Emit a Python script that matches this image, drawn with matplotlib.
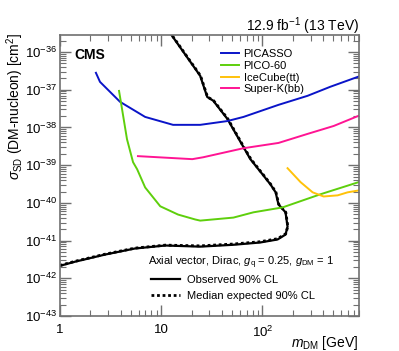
# CMS axial-vector limit vs direct detection (SD)
import numpy as np
import matplotlib.pyplot as plt
from matplotlib.ticker import LogLocator, FixedLocator, NullFormatter

plt.rcParams['font.family'] = ['Liberation Sans', 'DejaVu Sans']
plt.rcParams['mathtext.fontset'] = 'custom'
plt.rcParams['mathtext.rm'] = 'Liberation Sans'
plt.rcParams['mathtext.it'] = 'Liberation Sans:italic'
plt.rcParams['mathtext.bf'] = 'Liberation Sans:bold'

# data: mass [GeV], log10 cross section [cm^2]
picasso_m = [2.27, 2.49, 3.93, 6.95, 13.1, 24.3, 45, 65, 144, 279, 468, 890]
picasso_s = [-36.55, -36.79, -37.32, -37.72, -37.93, -37.93, -37.83, -37.72, -37.4, -37.16, -36.92, -36.65]

pico_m = [3.84, 4.11, 4.6, 5.28, 5.8, 6.95, 9.8, 14.7, 21.7, 24.3, 51.7, 81.5, 158, 375, 890]
pico_s = [-37.03, -37.51, -38.31, -38.92, -39.11, -39.59, -40.09, -40.31, -40.44, -40.47, -40.39, -40.25, -40.12, -39.77, -39.45]

icecube_m = [177, 238, 313, 402, 553, 693, 890]
icecube_s = [-39.08, -39.45, -39.72, -39.83, -39.8, -39.72, -39.67]

superk_m = [5.9, 20.3, 26, 65, 144, 279, 505, 890]
superk_s = [-38.76, -38.84, -38.79, -38.55, -38.41, -38.17, -37.96, -37.69]

obs_m = [1, 1.41, 2.8, 5.5, 11, 24.3, 52, 95, 141, 169, 177, 169, 144, 135, 120, 100, 76, 65, 45, 32.7, 28.5, 24.3, 12.3]
obs_s = [-41.67, -41.56, -41.37, -41.21, -41.13, -41.16, -41.11, -41.05, -40.97, -40.84, -40.63, -40.25, -40.04, -39.72, -39.51, -39.24, -38.84, -38.52, -37.77, -37.29, -37.19, -36.63, -35.5]

exp_m = [1, 1.41, 2.8, 5.5, 11, 24.3, 52, 95, 141, 170, 178, 170, 145, 136, 121, 101, 77, 65.5, 45.5, 33, 28.7, 24.5, 12.4]
exp_s = [-41.66, -41.55, -41.36, -41.20, -41.12, -41.14, -41.09, -41.03, -40.95, -40.82, -40.62, -40.25, -40.04, -39.72, -39.51, -39.24, -38.84, -38.52, -37.77, -37.29, -37.19, -36.63, -35.5]

fig = plt.figure(figsize=(3.99, 3.51), dpi=100)
ax = fig.add_axes([0.150, 0.0997, 0.750, 0.8003])

ax.plot(obs_m, 10.0 ** np.array(obs_s), color='black', lw=1.6, label='Observed 90% CL')
ax.plot(exp_m, 10.0 ** np.array(exp_s), color='black', lw=2.0, ls=(0, (1, 1)), label='Median expected 90% CL')
l1, = ax.plot(picasso_m, 10.0 ** np.array(picasso_s), color='#0a14c8', lw=1.4, label='PICASSO')
l2, = ax.plot(pico_m, 10.0 ** np.array(pico_s), color='#5ecf0c', lw=1.4, label='PICO-60')
l3, = ax.plot(icecube_m, 10.0 ** np.array(icecube_s), color='#ffc20a', lw=1.4, label='IceCube(tt)')
l4, = ax.plot(superk_m, 10.0 ** np.array(superk_s), color='#ff1493', lw=1.4, label='Super-K(bb)')

ax.set_xscale('log')
ax.set_yscale('log')
ax.set_xlim(1, 900)
ax.set_ylim(1e-43, 10 ** -35.55)

ax.xaxis.set_major_locator(FixedLocator([1, 10, 100]))
ax.set_xticklabels(['1', '10', '$10^2$'])
ax.xaxis.set_minor_locator(LogLocator(base=10, subs=np.arange(2, 10), numticks=20))
ax.xaxis.set_minor_formatter(NullFormatter())
ax.yaxis.set_major_locator(LogLocator(base=10, numticks=20))
ax.yaxis.set_minor_locator(LogLocator(base=10, subs=np.arange(2, 10), numticks=20))
ax.yaxis.set_minor_formatter(NullFormatter())

for s in ax.spines.values():
    s.set_color('#707070')
    s.set_linewidth(1.2)
ax.tick_params(which='both', direction='in', top=True, right=True, color='#707070', labelsize=9.5)
ax.tick_params(axis='x', pad=6)
ax.tick_params(axis='y', pad=2)
ax.tick_params(which='major', length=8, width=1)
ax.tick_params(which='minor', length=4, width=0.8)

# axis titles placed by hand, hide the empty default ones
ax.xaxis.label.set_visible(False)
ax.yaxis.label.set_visible(False)
fig.text(0.897, 1 - 347 / 351, r'$m_{\rm DM}$ [GeV]', fontsize=10, ha='right', va='baseline')
fig.text(15 / 399, 1 - 33 / 351, r'$\sigma_{\rm SD}$ (DM-nucleon) [cm$^2$]', fontsize=10,
         rotation=90, ha='center', va='top')

ax.text(0.05, 0.955, 'CMS', transform=ax.transAxes, fontsize=10, fontweight='bold', va='top')
fig.text(0.900, 1 - 31 / 351, r'12.9 fb$^{-1}$ (13 TeV)', ha='right', va='baseline', fontsize=10)

leg1 = ax.legend(handles=[l1, l2, l3, l4], loc='upper left', bbox_to_anchor=(0.525, 0.965),
                 frameon=False, fontsize=8, handlelength=1.6, handletextpad=0.4,
                 labelspacing=0.15, borderaxespad=0)
ax.add_artist(leg1)

ax.text(0.294, 0.189, r'Axial vector, Dirac, $g_{\rm q}$ = 0.25, $g_{\rm DM}$ = 1',
        transform=ax.transAxes, fontsize=8, va='center', ha='left')
h = ax.get_legend_handles_labels()[0][:2]
ax.legend(handles=h, loc='lower left', bbox_to_anchor=(0.29, 0.038), frameon=False, fontsize=8,
          handlelength=2.6, handletextpad=0.6, labelspacing=0.55, borderaxespad=0)

fig.savefig('out.png', dpi=100)
